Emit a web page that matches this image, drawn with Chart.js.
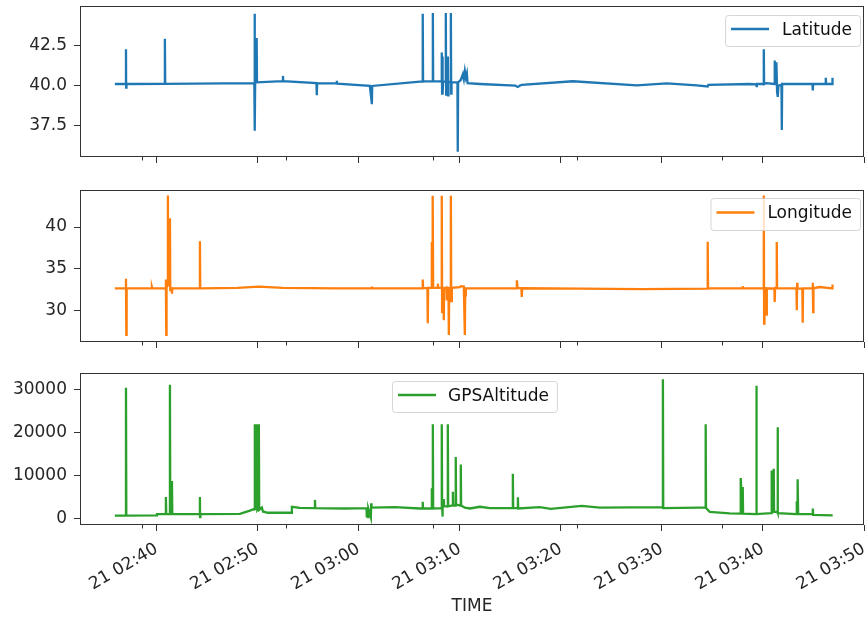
<!DOCTYPE html>
<html>
<head>
<meta charset="utf-8">
<script src="https://cdn.jsdelivr.net/npm/chart.js@4.4.1/dist/chart.umd.min.js"></script>
<style>
  html, body { margin: 0; padding: 0; background: #ffffff; }
  body { width: 865px; height: 620px; position: relative; overflow: hidden; }
  canvas { position: absolute; left: 0; }
</style>
</head>
<body>
<canvas id="latChart" width="865" height="170" style="top:0px"></canvas>
<canvas id="lonChart" width="865" height="175" style="top:180px"></canvas>
<canvas id="altChart" width="865" height="260" style="top:360px"></canvas>
<script>
// ---- GPS log, 21st, 02:35 - 03:47 ----

const latTime = [
  "02:35:52","02:36:56","02:36:58","02:36:59","02:37:01","02:40:47","02:40:49","02:40:51",
  "02:49:40","02:49:42","02:49:43","02:49:45","02:49:54","02:49:56","02:52:28","02:52:30",
  "02:52:32","02:55:49","02:55:51","02:55:53","02:57:48","02:57:50","02:57:52","03:01:06",
  "03:01:18","03:01:20","03:06:03","03:06:18","03:06:20","03:06:22","03:07:18","03:07:20",
  "03:07:22","03:08:11","03:08:13","03:08:15","03:08:17","03:08:19","03:08:21","03:08:35",
  "03:08:37","03:08:39","03:08:41","03:08:47","03:08:49","03:08:51","03:08:53","03:09:05",
  "03:09:07","03:09:09","03:09:11","03:09:46","03:09:48","03:09:50","03:10:06","03:10:18",
  "03:10:24","03:10:30","03:10:36","03:10:42","03:10:46","03:12:00","03:15:30","03:15:39",
  "03:15:45","03:15:57","03:16:08","03:21:11","03:27:31","03:30:29","03:33:27","03:34:32",
  "03:34:36","03:38:41","03:39:21","03:39:23","03:39:25","03:40:03","03:40:05","03:40:07",
  "03:40:20","03:41:08","03:41:10","03:41:14","03:41:20","03:41:24","03:41:28","03:41:32",
  "03:41:50","03:41:52","03:41:54","03:44:54","03:44:56","03:44:58","03:46:11","03:46:13",
  "03:46:15","03:46:50","03:46:52","03:46:54"
];
const latValue = [
  40.10, 40.10, 42.25, 39.88, 40.10, 40.11, 42.90, 40.11,
  40.15, 44.45, 37.20, 40.18, 42.95, 40.20, 40.28, 40.60,
  40.28, 40.15, 39.40, 40.15, 40.14, 40.30, 40.12, 39.98,
  38.85, 39.98, 40.25, 40.25, 44.45, 40.26, 40.26, 44.50,
  40.26, 40.28, 42.05, 39.50, 41.80, 39.50, 40.25, 40.25,
  44.50, 39.45, 40.20, 40.25, 41.80, 39.40, 40.20, 40.25,
  44.50, 39.50, 40.20, 40.20, 35.90, 40.20, 40.35, 40.70,
  40.40, 40.90, 40.50, 40.75, 40.15, 40.10, 40.00, 39.95,
  39.92, 40.00, 40.05, 40.27, 40.02, 40.14, 40.02, 39.95,
  40.05, 40.10, 40.08, 39.90, 40.10, 40.10, 42.25, 40.10,
  40.15, 40.10, 41.55, 40.10, 41.45, 39.60, 39.30, 40.00,
  40.05, 37.25, 40.10, 40.10, 39.70, 40.10, 40.10, 40.48,
  40.10, 40.10, 40.48, 40.10
];

const lonTime = [
  "02:35:52","02:36:56","02:36:58","02:37:00","02:37:02","02:39:30","02:39:32","02:39:34",
  "02:40:53","02:40:55","02:40:57","02:40:59","02:41:05","02:41:07","02:41:09","02:41:17",
  "02:41:19","02:41:21","02:41:29","02:41:31","02:41:33","02:44:15","02:44:17","02:44:19",
  "02:48:00","02:50:07","02:52:30","02:58:00","03:01:16","03:01:18","03:01:20","03:06:18",
  "03:06:20","03:06:22","03:06:48","03:06:50","03:06:52","03:07:12","03:07:14","03:07:16",
  "03:07:18","03:07:20","03:07:22","03:07:48","03:07:50","03:07:52","03:08:11","03:08:13",
  "03:08:15","03:08:17","03:08:23","03:08:25","03:08:27","03:08:41","03:08:43","03:08:47",
  "03:08:53","03:08:55","03:08:57","03:09:05","03:09:07","03:09:09","03:09:13","03:10:00",
  "03:10:06","03:10:24","03:10:30","03:10:32","03:10:36","03:15:37","03:15:39","03:15:43",
  "03:16:06","03:16:08","03:16:10","03:22:00","03:28:00","03:34:30","03:34:32","03:34:34",
  "03:37:58","03:38:00","03:38:02","03:40:03","03:40:05","03:40:07","03:40:09","03:40:20",
  "03:40:22","03:40:24","03:41:08","03:41:10","03:41:12","03:41:20","03:41:22","03:41:24",
  "03:43:19","03:43:21","03:43:23","03:43:25","03:43:54","03:43:56","03:43:58","03:44:54",
  "03:44:56","03:44:58","03:45:00","03:45:37","03:46:50","03:46:52","03:46:54"
];
const lonValue = [
  32.65, 32.65, 33.80, 27.05, 32.65, 32.65, 32.80, 32.65,
  32.65, 33.70, 27.05, 32.70, 33.20, 43.80, 33.00, 33.00,
  41.05, 32.50, 32.60, 32.00, 32.65, 32.65, 38.30, 32.65,
  32.70, 32.85, 32.70, 32.65, 32.65, 32.85, 32.65, 32.65,
  33.70, 32.70, 32.65, 28.45, 32.70, 32.70, 38.20, 33.00,
  33.00, 43.75, 32.70, 32.70, 33.20, 32.70, 32.70, 43.75,
  29.80, 32.70, 32.60, 28.80, 32.70, 32.70, 31.20, 32.70,
  32.60, 27.05, 32.70, 32.70, 43.75, 31.10, 32.70, 32.80,
  32.90, 32.85, 27.05, 31.80, 32.65, 32.65, 33.60, 32.70,
  32.65, 31.60, 32.65, 32.60, 32.55, 32.60, 38.25, 32.65,
  32.65, 32.90, 32.65, 32.65, 43.80, 28.40, 32.70, 32.65,
  29.35, 32.65, 32.60, 31.00, 32.70, 32.70, 38.20, 32.65,
  32.65, 30.00, 33.30, 32.60, 32.60, 28.50, 32.65, 32.65,
  33.30, 29.80, 32.65, 32.80, 32.65, 33.10, 32.70
];

const altTime = [
  "02:35:52","02:36:56","02:36:58","02:37:00","02:40:00","02:40:02","02:40:53","02:40:55",
  "02:40:57","02:41:17","02:41:19","02:41:21","02:41:29","02:41:31","02:41:33","02:44:15",
  "02:44:17","02:44:18","02:44:20","02:48:14","02:49:14","02:49:40","02:49:43","02:49:46",
  "02:49:53","02:49:55","02:49:58","02:50:05","02:50:07","02:50:09","02:50:25","02:50:31",
  "02:51:00","02:53:21","02:53:23","02:54:10","02:55:38","02:55:40","02:55:42","02:58:38",
  "03:00:46","03:00:47","03:00:49","03:00:55","03:00:57","03:01:12","03:01:14","03:01:16",
  "03:03:34","03:06:03",
  "03:06:18","03:06:20","03:06:22","03:07:12","03:07:14","03:07:18","03:07:20","03:07:22",
  "03:08:11","03:08:13","03:08:15","03:08:17","03:08:19","03:08:25","03:08:27","03:08:47",
  "03:08:49","03:08:51","03:09:17","03:09:19","03:09:21","03:09:34","03:09:36","03:09:38",
  "03:10:04","03:10:06","03:10:08","03:10:30","03:11:00","03:11:59","03:13:00","03:15:13",
  "03:15:15","03:15:17","03:15:43","03:15:45","03:15:47","03:17:55","03:19:00","03:22:04",
  "03:23:51","03:30:04","03:30:06","03:30:08","03:33:45","03:34:18","03:34:20","03:34:22",
  "03:34:44","03:36:42","03:37:46","03:37:48","03:37:58","03:38:00","03:38:02","03:39:19",
  "03:39:21","03:39:23","03:40:50","03:40:52","03:40:54","03:41:02","03:41:04","03:41:06",
  "03:41:25","03:41:27","03:41:29","03:43:19","03:43:21","03:43:23","03:43:25","03:43:27",
  "03:43:29","03:44:54","03:44:56","03:44:58","03:46:54"
];
const altValue = [
  650, 650, 30500, 650, 680, 1000, 1000, 5000,
  1000, 1000, 31200, 1100, 1000, 8700, 1000, 1000,
  5000, 300, 1000, 1050, 1800, 2200, 22000, 2200,
  2400, 22000, 2000, 2400, 22000, 2000, 2500, 1600,
  1300, 1300, 2700, 2450, 2400, 4300, 2400, 2300,
  2400, 200, 2300, 300, 2300, 200, 3500, 2500,
  2600, 2300,
  2300, 3850, 2300, 2300, 7000, 2300, 22000, 2300,
  2400, 22000, 3000, 400, 2500, 4500, 2800, 2800,
  22000, 2800, 3000, 6200, 3000, 3000, 14300, 3200,
  3000, 12600, 3000, 2500, 2300, 2700, 2400, 2400,
  10400, 2400, 2400, 4900, 2300, 2600, 2200, 2900,
  2500, 2600, 32500, 2400, 2500, 2500, 22000, 2400,
  1500, 1150, 1100, 9400, 1100, 7300, 1100, 1000,
  31000, 1000, 1200, 11200, 1500, 1500, 11600, 1500,
  1500, 21300, 1200, 1000, 4000, 1000, 1000, 9100,
  1000, 1000, 2300, 800, 700
];

// axis ticks
const timeTicks = ["02:40","02:50","03:00","03:10","03:20","03:30","03:40","03:50"];
const timeMinorTicks = ["02:38:31","02:52:50","03:07:19","03:21:38","03:35:58"];
const latTicks = [37.5, 40.0, 42.5];
const latTickLabels = ["37.5", "40.0", "42.5"];
const lonTicks = [30, 35, 40];
const lonTickLabels = ["30", "35", "40"];
const altTicks = [0, 10000, 20000, 30000];
const altTickLabels = ["0", "10000", "20000", "30000"];
const dayLabel = "21";

// ---- helpers ----
function toSec(t) {
  const p = t.split(":").map(Number);
  return p[0] * 3600 + p[1] * 60 + (p[2] || 0);
}
function fmtTime(v) {
  const h = Math.floor(v / 3600), m = Math.round((v % 3600) / 60);
  return dayLabel + " " + String(h).padStart(2, "0") + ":" + String(m).padStart(2, "0");
}
function points(times, values) {
  return times.map((t, i) => ({ x: toSec(t), y: values[i] }));
}

const X_MIN = toSec("02:32:25");
const X_MAX = toSec("03:50:00");
const FONT = "DejaVu Sans";
const FONT_SIZE = 17;
const AXIS_COLOR = "#333333";
const TEXT_COLOR = "#262626";
const LINE_WIDTH = 2.3;

Chart.defaults.font.family = FONT;
Chart.defaults.font.size = FONT_SIZE;
Chart.defaults.color = TEXT_COLOR;

// frame, minor ticks and a boxed legend drawn inside each panel
const panelDecor = {
  id: "panelDecor",
  afterDatasetsDraw(chart, args, opts) {
    const { ctx, chartArea: a, scales } = chart;
    ctx.save();
    ctx.strokeStyle = AXIS_COLOR;
    ctx.lineWidth = 1;
    ctx.beginPath();
    timeMinorTicks.forEach(t => {
      const px = Math.round(scales.x.getPixelForValue(toSec(t))) + 0.5;
      ctx.moveTo(px, a.bottom);
      ctx.lineTo(px, a.bottom + opts.minorLength);
    });
    ctx.stroke();
    ctx.strokeRect(Math.round(a.left) + 0.5, Math.round(a.top) + 0.5,
                   Math.round(a.right - a.left) - 1, Math.round(a.bottom - a.top) - 1);

    const ds = chart.data.datasets[0];
    const lg = opts.legend;
    ctx.font = FONT_SIZE + "px '" + FONT + "'";
    const tw = ctx.measureText(ds.label).width;
    const w = lg.textOffset + tw + lg.padRight;
    const x = lg.align === "right" ? lg.x - w : lg.x;
    const y = lg.y;
    ctx.beginPath();
    ctx.roundRect(x + 0.5, y + 0.5, w, lg.height, 3);
    ctx.fillStyle = "rgba(255,255,255,0.8)";
    ctx.fill();
    ctx.strokeStyle = "rgba(204,204,204,0.8)";
    ctx.lineWidth = 1;
    ctx.stroke();
    ctx.strokeStyle = ds.borderColor;
    ctx.lineWidth = ds.borderWidth;
    ctx.beginPath();
    ctx.moveTo(x + 6, y + lg.height / 2 - 1.5);
    ctx.lineTo(x + 44, y + lg.height / 2 - 1.5);
    ctx.stroke();
    ctx.fillStyle = "#111111";
    ctx.textBaseline = "middle";
    ctx.textAlign = "left";
    ctx.fillText(ds.label, x + lg.textOffset, y + lg.height / 2);
    ctx.restore();
  }
};

function makePanel(id, cfg) {
  return new Chart(document.getElementById(id), {
    type: "line",
    data: {
      datasets: [{
        label: cfg.label,
        data: cfg.data,
        borderColor: cfg.color,
        borderWidth: LINE_WIDTH,
        pointRadius: 0,
        tension: 0,
        fill: false
      }]
    },
    options: {
      responsive: false,
      animation: false,
      devicePixelRatio: 1,
      events: [],
      layout: { padding: { top: cfg.padTop, right: 1, left: 0, bottom: 0 } },
      plugins: {
        legend: { display: false },
        tooltip: { enabled: false },
        panelDecor: { minorLength: 3.5, legend: cfg.legend }
      },
      scales: {
        x: {
          type: "linear",
          min: X_MIN,
          max: X_MAX,
          afterBuildTicks: s => { s.ticks = timeTicks.map(t => ({ value: toSec(t) })); },
          afterFit: s => { s.height = cfg.xHeight; s.paddingLeft = 0; s.paddingRight = 0; },
          border: { display: false },
          grid: { drawOnChartArea: false, drawTicks: true, tickLength: 6, tickColor: AXIS_COLOR, tickWidth: 1 },
          ticks: {
            display: cfg.showTime,
            autoSkip: false,
            minRotation: 30,
            maxRotation: 30,
            padding: 8,
            color: TEXT_COLOR,
            callback: v => fmtTime(v)
          },
          title: {
            display: cfg.showTime,
            text: "TIME",
            color: TEXT_COLOR,
            padding: { top: 0, bottom: 3 }
          }
        },
        y: {
          type: "linear",
          min: cfg.yMin,
          max: cfg.yMax,
          afterBuildTicks: s => { s.ticks = cfg.ticks.map(v => ({ value: v })); },
          afterFit: s => { s.width = 80; s.paddingTop = 0; s.paddingBottom = 0; },
          border: { display: false },
          grid: { drawOnChartArea: false, drawTicks: true, tickLength: 6, tickColor: AXIS_COLOR, tickWidth: 1 },
          ticks: {
            padding: 7,
            color: TEXT_COLOR,
            callback: (v, i) => cfg.tickLabels[i]
          }
        }
      }
    },
    plugins: [panelDecor]
  });
}

makePanel("latChart", {
  label: "Latitude", color: "#1f77b4", data: points(latTime, latValue),
  yMin: 35.58, yMax: 44.93, ticks: latTicks, tickLabels: latTickLabels,
  padTop: 6, xHeight: 13, showTime: false,
  legend: { align: "right", x: 860, y: 15, height: 31, textOffset: 57, padRight: 8 }
});
makePanel("lonChart", {
  label: "Longitude", color: "#ff7f0e", data: points(lonTime, lonValue),
  yMin: 26.2, yMax: 44.45, ticks: lonTicks, tickLabels: lonTickLabels,
  padTop: 10, xHeight: 13, showTime: false,
  legend: { align: "right", x: 860, y: 18, height: 32, textOffset: 57, padRight: 8 }
});
makePanel("altChart", {
  label: "GPSAltitude", color: "#2ca02c", data: points(altTime, altValue),
  yMin: -1560, yMax: 33950, ticks: altTicks, tickLabels: altTickLabels,
  padTop: 13, xHeight: 95, showTime: true,
  legend: { align: "left", x: 392, y: 21, height: 31, textOffset: 56, padRight: 8 }
});
</script>
</body>
</html>
